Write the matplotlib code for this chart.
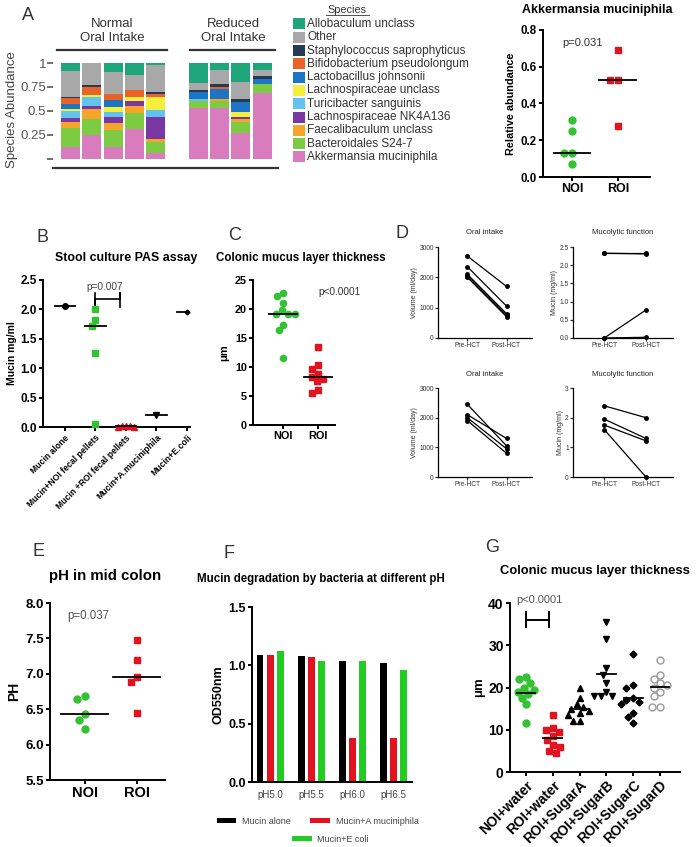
import numpy as np
import matplotlib.pyplot as plt
from matplotlib.patches import Rectangle
from matplotlib.lines import Line2D

plt.rcParams['font.family'] = ['Liberation Sans', 'DejaVu Sans']

W, H = 700, 847

# ---------------- data ----------------
# Panel A: species abundance (one list per species, 9 mice: 5 NOI + 4 ROI)
species = ['Allobaculum unclass', 'Other', 'Staphylococcus saprophyticus',
           'Bifidobacterium pseudolongum', 'Lactobacillus johnsonii',
           'Lachnospiraceae unclass', 'Turicibacter sanguinis',
           'Lachnospiraceae NK4A136', 'Faecalibaculum unclass',
           'Bacteroidales S24-7', 'Akkermansia muciniphila']
species_colors = ['#1ea57a', '#a8a8a8', '#263a55', '#e8622a', '#1c74c4',
                  '#f4ef3c', '#62c3ef', '#7a36a2', '#f5a62a', '#7dcb42', '#d97cbe']
allo = [0.09, 0.00, 0.09, 0.12, 0.02, 0.21, 0.07, 0.20, 0.07]
other = [0.265, 0.23, 0.23, 0.16, 0.28, 0.07, 0.15, 0.18, 0.07]
staph = [0.015, 0.02, 0.00, 0.00, 0.02, 0.02, 0.03, 0.03, 0.03]
bifido = [0.06, 0.08, 0.07, 0.07, 0.03, 0.00, 0.02, 0.00, 0.00]
lacto = [0.05, 0.00, 0.07, 0.00, 0.00, 0.08, 0.11, 0.10, 0.05]
lachno = [0.03, 0.02, 0.05, 0.05, 0.14, 0.00, 0.00, 0.05, 0.00]
turici = [0.07, 0.10, 0.05, 0.00, 0.07, 0.02, 0.00, 0.00, 0.00]
nk4a = [0.035, 0.03, 0.07, 0.05, 0.23, 0.00, 0.00, 0.02, 0.00]
faecali = [0.07, 0.10, 0.07, 0.07, 0.03, 0.00, 0.02, 0.03, 0.00]
bacter = [0.19, 0.17, 0.17, 0.17, 0.12, 0.07, 0.07, 0.12, 0.09]
akk = [0.13, 0.25, 0.13, 0.31, 0.06, 0.53, 0.53, 0.27, 0.69]
abund = [allo, other, staph, bifido, lacto, lachno, turici, nk4a, faecali, bacter, akk]
bar_pos = [0, 1, 2, 3, 4, 6, 7, 8, 9]

# Panel A right: Akkermansia relative abundance
akk_noi = [0.31, 0.25, 0.13, 0.13, 0.07]
akk_roi = [0.69, 0.53, 0.53, 0.28]

# Panel B: stool culture PAS assay
b_labels = ['Mucin alone', 'Mucin+NOI fecal pellets', 'Mucin +ROI fecal pellets',
            'Mucin+A.muciniphila', 'Mucin+E.coli']
b_mucin = [2.05]
b_noi = [2.0, 1.82, 1.72, 1.25, 0.05]
b_roi = [0.01, 0.0, 0.02, 0.0, 0.01]
b_akk = [0.2]
b_ecoli = [1.95]

# Panel C: colonic mucus layer thickness
c_noi = [22.7, 22.2, 21.0, 19.8, 19.2, 19.2, 19.2, 17.3, 16.3, 11.5]
c_roi = [13.5, 10.3, 9.7, 8.8, 8.3, 8.0, 7.5, 6.1, 5.5]

# Panel D: paired patient data
d_oi1_pre = [2700, 2350, 2100, 2050, 2000]
d_oi1_post = [1700, 1050, 800, 750, 700]
d_mf1_pre = [2.33, 2.33, 0.0, 0.0]
d_mf1_post = [2.33, 2.31, 0.77, 0.02]
d_oi2_pre = [2450, 2100, 2000, 1900]
d_oi2_post = [1050, 1300, 950, 800]
d_mf2_pre = [2.4, 1.95, 1.75, 1.6]
d_mf2_post = [2.0, 1.3, 1.22, 0.0]

# Panel E: pH in mid colon
e_noi = [6.68, 6.65, 6.43, 6.35, 6.22]
e_roi = [7.48, 7.2, 6.95, 6.88, 6.45]

# Panel F: mucin degradation at different pH
f_groups = ['pH5.0', 'pH5.5', 'pH6.0', 'pH6.5']
f_mucin = [1.09, 1.08, 1.04, 1.02]
f_akk = [1.09, 1.07, 0.38, 0.38]
f_ecoli = [1.12, 1.04, 1.04, 0.96]

# Panel G: mucus thickness with sugars
g_labels = ['NOI+water', 'ROI+water', 'ROI+SugarA', 'ROI+SugarB', 'ROI+SugarC', 'ROI+SugarD']
g_noi = [22.5, 22.0, 21.0, 20.0, 19.5, 19.0, 18.5, 17.5, 16.0, 11.5]
g_roi = [13.5, 10.5, 10.0, 9.5, 8.5, 7.5, 6.5, 6.0, 5.0, 4.5]
g_a = [20.0, 17.5, 16.0, 15.5, 15.0, 14.5, 14.0, 13.5, 12.0, 12.0]
g_b = [35.5, 31.5, 24.5, 23.0, 21.0, 19.0, 18.0, 18.0, 18.0]
g_c = [28.0, 20.5, 20.0, 17.5, 17.0, 16.5, 16.0, 14.0, 13.0, 11.5]
g_d = [26.5, 23.0, 22.0, 21.0, 20.5, 20.0, 19.0, 18.0, 15.5, 15.5]

GREEN = '#33c233'
RED = '#e3121f'

fig = plt.figure(figsize=(W / 100, H / 100), dpi=100)


def px_axes(l, t, r, b):
    return fig.add_axes([l / W, 1 - b / H, (r - l) / W, (b - t) / H])


def ftext(x, y, s, **kw):
    fig.text(x / W, 1 - y / H, s, **kw)


def fline(x0, x1, y, **kw):
    fig.add_artist(Line2D([x0 / W, x1 / W], [1 - y / H, 1 - y / H],
                          transform=fig.transFigure, **kw))


def prism(ax, fs=7.5, lw=1.4, bold=True):
    for s in ['top', 'right']:
        ax.spines[s].set_visible(False)
    for s in ['left', 'bottom']:
        ax.spines[s].set_linewidth(lw)
    ax.tick_params(width=lw, length=3, labelsize=fs, pad=1.5)
    if bold:
        for lab in ax.get_xticklabels() + ax.get_yticklabels():
            lab.set_fontweight('bold')


def swarm(ax, x, vals, d):
    # simple beeswarm in pixel space; limits must already be set
    pts = ax.transData.transform(np.column_stack([np.full(len(vals), x), vals]))
    ys = pts[:, 1]
    placed = []
    offs = np.zeros(len(vals))
    for i in np.argsort(-ys, kind='stable'):
        y = ys[i]
        cands = [0.0]
        for xo, yo in placed:
            dy = abs(y - yo)
            if dy < d:
                dx = np.sqrt(d * d - dy * dy)
                cands += [xo - dx, xo + dx]
        for c in sorted(cands, key=abs):
            if all((c - xo) ** 2 + (y - yo) ** 2 >= d * d - 1e-6 for xo, yo in placed):
                break
        offs[i] = c
        placed.append((c, y))
    unit = ax.transData.transform((1, 0))[0] - ax.transData.transform((0, 0))[0]
    return offs / unit


def dots(ax, x, vals, d, line='median', half=0.35, **kw):
    ax.plot(x + swarm(ax, x, vals, d), vals, ls='none', clip_on=False, zorder=3, **kw)
    c = np.median(vals) if line == 'median' else np.mean(vals)
    ax.plot([x - half, x + half], [c, c], color='black', lw=1.3, zorder=4)


# ---------------- Panel A: stacked bars ----------------
axA = px_axes(53, 63, 278, 168)
bottom = np.zeros(len(bar_pos))
for vals, col in zip(abund[::-1], species_colors[::-1]):
    axA.bar(bar_pos, vals, bottom=bottom, width=0.89, color=col, linewidth=0)
    bottom += np.array(vals)
axA.set_xlim(-0.82, 9.74)
axA.set_ylim(-0.094, 1.0)
axA.set_yticks([0, 0.25, 0.5, 0.75, 1])
axA.set_yticklabels(['', '0.25', '0.5', '0.75', '1'], fontsize=9.5, color='#555')
axA.set_xticks([])
for s in ['top', 'right', 'left']:
    axA.spines[s].set_visible(False)
axA.spines['bottom'].set_linewidth(1.6)
axA.spines['bottom'].set_color('#333')
axA.tick_params(axis='y', length=4, width=1.2, color='#555', pad=1)
ftext(12, 110, 'Species Abundance', rotation=90, ha='center', va='center',
      fontsize=9.5, color='#444')
ftext(28, 16, 'A', fontsize=13, ha='center', va='center', color='#333')
ftext(112, 31, 'Normal\nOral Intake', fontsize=9.5, ha='center', va='center',
      color='#333', linespacing=1.15)
ftext(233, 31, 'Reduced\nOral Intake', fontsize=9.5, ha='center', va='center',
      color='#333', linespacing=1.15)
fline(57, 167, 50, color='#333', lw=1.6)
fline(190, 275, 50, color='#333', lw=1.6)

# legend
ftext(347, 10, 'Species', fontsize=7.8, ha='center', va='center', color='#333')
fline(326, 369, 15.5, color='#333', lw=0.6)
for i, (name, col) in enumerate(zip(species, species_colors)):
    y = 24 + 13.3 * i
    fig.add_artist(Rectangle((293 / W, 1 - (y + 5.5) / H), 12 / W, 11 / H,
                             transform=fig.transFigure, color=col, lw=0))
    ftext(307, y, name, fontsize=8.5, va='center', color='#333')

# ---------------- Panel A right: Akkermansia ----------------
axK = px_axes(543, 30, 650, 177)
axK.set_xlim(-0.63, 1.7)
axK.set_ylim(0, 0.8)
dots(axK, 0, akk_noi, 8, marker='o', ms=5, color=GREEN, half=0.4)
dots(axK, 1, akk_roi, 8, marker='s', ms=4.5, color=RED, half=0.4)
axK.set_yticks([0, 0.2, 0.4, 0.6, 0.8])
axK.set_xticks([0, 1])
axK.set_xticklabels(['NOI', 'ROI'])
prism(axK, fs=8.3)
axK.tick_params(axis='x', labelsize=9)
axK.set_ylabel('Relative abundance', fontsize=7.8, fontweight='bold', labelpad=3)
axK.text(0.24, 0.73, 'p=0.031', fontsize=8, ha='center', va='center', color='#333')
ftext(597, 10, 'Akkermansia muciniphila', fontsize=8.9, fontweight='bold',
      ha='center', va='center')

# ---------------- Panel B ----------------
axB = px_axes(43, 280, 190, 427)
axB.set_xlim(-0.72, 4.1)
axB.set_ylim(0, 2.5)
dots(axB, 0, b_mucin, 7, marker='o', ms=4, color='black', half=0.33)
dots(axB, 1, b_noi, 7, marker='s', ms=4.5, color=GREEN, half=0.33)
dots(axB, 2, b_roi, 4, marker='^', ms=4.5, color=RED, half=0.33)
dots(axB, 3, b_akk, 7, marker='v', ms=4, color='black', half=0.33)
dots(axB, 4, b_ecoli, 7, marker='D', ms=2.5, color='black', half=0.33)
axB.set_yticks([0, 0.5, 1.0, 1.5, 2.0, 2.5])
axB.set_yticklabels(['0.0', '0.5', '1.0', '1.5', '2.0', '2.5'])
axB.set_xticks(range(len(b_labels)))
axB.set_xticklabels(b_labels, rotation=45, ha='right', rotation_mode='anchor')
prism(axB, fs=8.5)
axB.tick_params(axis='x', labelsize=6.2)
axB.set_ylabel('Mucin mg/ml', fontsize=7.5, fontweight='bold', labelpad=2)
axB.plot([1, 1, 1, 1.8, 1.8, 1.8], [2.28, 2.04, 2.18, 2.18, 2.28, 2.04],
         color='black', lw=1.2, clip_on=False)
axB.text(1.3, 2.38, 'p=0.007', fontsize=7.3, ha='center', va='center', color='#444')
ftext(43, 238, 'B', fontsize=13, ha='center', va='center', color='#333')
ftext(126, 258, 'Stool culture PAS assay', fontsize=8.9, fontweight='bold',
      ha='center', va='center')

# ---------------- Panel C ----------------
axC = px_axes(253, 280, 335, 425)
axC.set_xlim(-0.86, 1.49)
axC.set_ylim(0, 25)
dots(axC, 0, c_noi, 7, marker='o', ms=4.5, color=GREEN, half=0.4)
dots(axC, 1, c_roi, 7, marker='s', ms=4.5, color=RED, half=0.4)
axC.set_yticks([0, 5, 10, 15, 20, 25])
axC.set_xticks([0, 1])
axC.set_xticklabels(['NOI', 'ROI'])
prism(axC, fs=7.8)
axC.set_ylabel('μm', fontsize=8, fontweight='bold', labelpad=4)
axC.text(1.63, 22.9, 'p<0.0001', fontsize=7.3, ha='center', va='center',
         color='#333', clip_on=False)
ftext(235, 236, 'C', fontsize=13, ha='center', va='center', color='#333')
ftext(301, 258, 'Colonic mucus layer thickness', fontsize=8.3, fontweight='bold',
      ha='center', va='center')


# ---------------- Panel D ----------------
def paired(ax, pre, post, title, ylabel, ymax, yticks, yfmt):
    for a, b in zip(pre, post):
        ax.plot([0, 1], [a, b], color='black', lw=0.9, marker='o', ms=2.5,
                clip_on=False)
    ax.set_xlim(-0.75, 1.65)
    ax.set_ylim(0, ymax)
    ax.set_yticks(yticks)
    ax.set_yticklabels([yfmt.format(v) for v in yticks])
    ax.set_xticks([0, 1])
    ax.set_xticklabels(['Pre-HCT', 'Post-HCT'])
    prism(ax, fs=4.8, lw=0.9, bold=False)
    ax.tick_params(length=2, pad=1, colors='#333')
    ax.set_title(title, fontsize=5.5, pad=9, color='#222')
    ax.set_ylabel(ylabel, fontsize=5, labelpad=1, color='#333')


axD1 = px_axes(438, 247, 532, 338)
paired(axD1, d_oi1_pre, d_oi1_post, 'Oral intake', 'Volume (ml/day)', 3000,
       [0, 1000, 2000, 3000], '{:d}')
axD2 = px_axes(573, 247, 673, 338)
paired(axD2, d_mf1_pre, d_mf1_post, 'Mucolytic function', 'Mucin (mg/ml)', 2.5,
       [0, 0.5, 1.0, 1.5, 2.0, 2.5], '{:.1f}')
axD3 = px_axes(438, 388, 532, 477)
paired(axD3, d_oi2_pre, d_oi2_post, 'Oral intake', 'Volume (ml/day)', 3000,
       [0, 1000, 2000, 3000], '{:d}')
axD4 = px_axes(573, 388, 673, 477)
paired(axD4, d_mf2_pre, d_mf2_post, 'Mucolytic function', 'Mucin (mg/ml)', 3,
       [0, 1, 2, 3], '{:d}')
ftext(402, 233, 'D', fontsize=13, ha='center', va='center', color='#333')

# ---------------- Panel E ----------------
axE = px_axes(50, 603, 165, 780)
axE.set_xlim(-0.67, 1.54)
axE.set_ylim(5.5, 8.0)
dots(axE, 0, e_noi, 8, marker='o', ms=5, color=GREEN, half=0.45)
dots(axE, 1, e_roi, 8, marker='s', ms=5, color=RED, half=0.45)
axE.set_yticks([5.5, 6.0, 6.5, 7.0, 7.5, 8.0])
axE.set_yticklabels(['5.5', '6.0', '6.5', '7.0', '7.5', '8.0'])
axE.set_xticks([0, 1])
axE.set_xticklabels(['NOI', 'ROI'])
prism(axE, fs=9.5)
axE.tick_params(axis='x', labelsize=10.5)
axE.set_ylabel('PH', fontsize=10, fontweight='bold', labelpad=3)
axE.text(0.06, 7.82, 'p=0.037', fontsize=8.3, ha='center', va='center', color='#555')
ftext(38, 551, 'E', fontsize=13, ha='center', va='center', color='#333')
ftext(105, 576, 'pH in mid colon', fontsize=10.8, fontweight='bold',
      ha='center', va='center')

# ---------------- Panel F ----------------
axF = px_axes(252, 607, 412, 782)
xf = np.arange(len(f_groups))
axF.bar(xf - 0.245, f_mucin, width=0.17, color='black', label='Mucin alone')
axF.bar(xf, f_akk, width=0.17, color=RED, label='Mucin+A muciniphila')
axF.bar(xf + 0.245, f_ecoli, width=0.17, color='#22cc22', label='Mucin+E coli')
axF.set_xlim(-0.44, 3.46)
axF.set_ylim(0, 1.5)
axF.set_yticks([0, 0.5, 1.0, 1.5])
axF.set_yticklabels(['0.0', '0.5', '1.0', '1.5'])
axF.set_xticks(xf)
axF.set_xticklabels(f_groups)
prism(axF, fs=9)
axF.tick_params(axis='x', length=0, labelsize=7, pad=6, labelcolor='#444')
for lab in axF.get_xticklabels():
    lab.set_fontweight('normal')
axF.set_ylabel('OD550nm', fontsize=9, fontweight='bold', labelpad=3)
h, l = axF.get_legend_handles_labels()
leg1 = axF.legend([h[0], h[1]], [l[0], l[1]], ncol=2, frameon=False, fontsize=6.5,
                  loc='center', bbox_to_anchor=(0.41, -0.223), handlelength=2.2,
                  handleheight=0.5, columnspacing=2.2, labelcolor='#444',
                  borderpad=0, handletextpad=0.6)
axF.add_artist(leg1)
axF.legend([h[2]], [l[2]], frameon=False, fontsize=6.5, loc='center',
           bbox_to_anchor=(0.49, -0.326), handlelength=2.2, handleheight=0.5,
           labelcolor='#444', borderpad=0, handletextpad=0.6)
ftext(229, 553, 'F', fontsize=13, ha='center', va='center', color='#333')
ftext(321, 579, 'Mucin degradation by bacteria at different pH', fontsize=8.3,
      fontweight='bold', ha='center', va='center')

# ---------------- Panel G ----------------
axG = px_axes(510, 603, 680, 772)
axG.set_xlim(-0.6, 5.75)
axG.set_ylim(0, 40)
dots(axG, 0, g_noi, 7.5, line='mean', marker='o', ms=5, color=GREEN)
dots(axG, 1, g_roi, 7.5, line='mean', marker='s', ms=5, color=RED)
dots(axG, 2, g_a, 7, line='mean', marker='^', ms=4.5, color='black')
dots(axG, 3, g_b, 7, line='mean', marker='v', ms=4.5, color='black')
dots(axG, 4, g_c, 7, line='mean', marker='D', ms=3.5, color='black')
dots(axG, 5, g_d, 7.5, line='mean', marker='o', ms=5, mfc='none',
     mec='#999', mew=1.0)
axG.set_yticks([0, 10, 20, 30, 40])
axG.set_xticks(range(len(g_labels)))
axG.set_xticklabels(g_labels, rotation=45, ha='right', rotation_mode='anchor')
prism(axG, fs=10)
axG.tick_params(axis='x', labelsize=10)
axG.set_ylabel('μm', fontsize=9.5, fontweight='bold', labelpad=2)
axG.plot([0, 0, 0, 0.85, 0.85, 0.85], [37.8, 34.3, 36, 36, 37.8, 34.3],
         color='black', lw=1.4, clip_on=False)
axG.text(0.5, 40.6, 'p<0.0001', fontsize=8, ha='center', va='center',
         color='#555', clip_on=False)
ftext(492, 547, 'G', fontsize=13, ha='center', va='center', color='#333')
ftext(595, 571, 'Colonic mucus layer thickness', fontsize=9.4, fontweight='bold',
      ha='center', va='center')

fig.savefig('out.png', dpi=100)
